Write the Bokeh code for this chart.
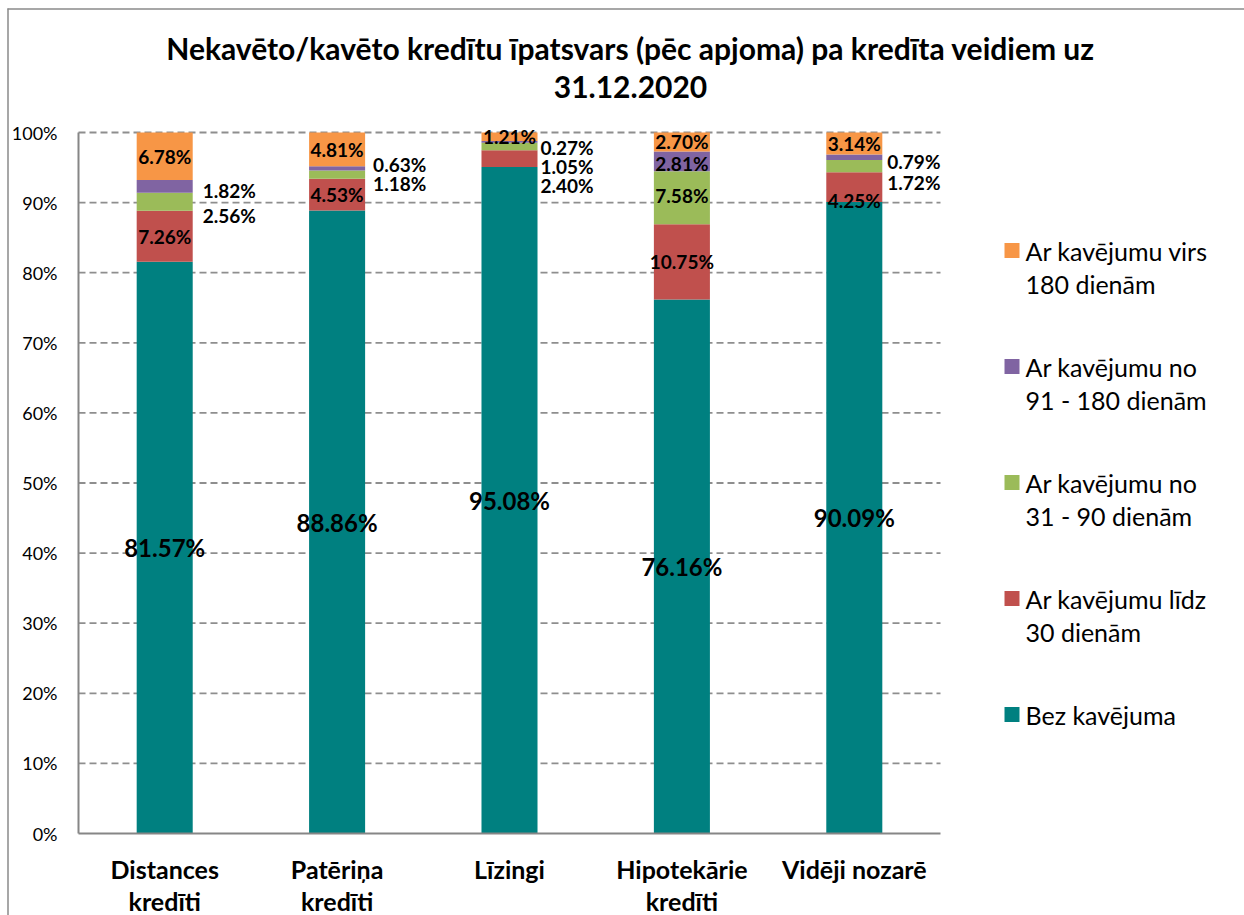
from bokeh.plotting import figure
from bokeh.models import ColumnDataSource, Range1d
from bokeh.core.properties import value
from bokeh.embed import file_html
from bokeh.resources import INLINE

# ---------------- data ----------------
categories = ["Distances\nkredīti", "Patēriņa\nkredīti", "Līzingi", "Hipotekārie\nkredīti", "Vidēji nozarē"]
bez_kavejuma = [81.57, 88.86, 95.08, 76.16, 90.09]
lidz_30 = [7.26, 4.53, 2.40, 10.75, 4.25]
no_31_90 = [2.56, 1.18, 1.05, 7.58, 1.72]
no_91_180 = [1.82, 0.63, 0.27, 2.81, 0.79]
virs_180 = [6.78, 4.81, 1.21, 2.70, 3.14]
series_labels = ["Bez kavējuma", "Ar kavējumu līdz\n30 dienām", "Ar kavējumu no\n31 - 90 dienām",
                 "Ar kavējumu no\n91 - 180 dienām", "Ar kavējumu virs\n180 dienām"]
y_ticks = [0, 10, 20, 30, 40, 50, 60, 70, 80, 90, 100]
y_tick_labels = ["0%", "10%", "20%", "30%", "40%", "50%", "60%", "70%", "80%", "90%", "100%"]
title_lines = ["Nekavēto/kavēto kredītu īpatsvars (pēc apjoma) pa kredīta veidiem uz", "31.12.2020"]

# ---------------- style / layout ----------------
colors = ["#008080", "#C0504D", "#9BBB59", "#8064A2", "#F79646"]
FONT = "Lato"
GRID_COLOR = "#8e8e8e"
AXIS_COLOR = "#868686"
FRAME_COLOR = "#8a8a8a"
BAR_W = 0.325
W, H = 1244, 915           # canvas covers the page from (0, 0)
PLOT_LEFT_PX = 78          # page x of the plot area's left edge (category -0.5)
ZERO_Y_PX = 833            # page y of the 0% line
PX_PER_UNIT = 172.4
PX_PER_PCT = 7.01
BORDER_X_PX, BORDER_Y_PX = 7.5, 8.5

def x_at(px):
    return -0.5 + (px - PLOT_LEFT_PX) / PX_PER_UNIT

def y_at(py):
    return (ZERO_Y_PX - py) / PX_PER_PCT

# label placement: (category, series) -> (x offset px, y offset px) for labels right of the bar
outside_labels = {(0, 2): (10, 14), (0, 3): (10, 4),
                  (1, 2): (8, 9), (1, 3): (8, -4),
                  (2, 1): (3, 27), (2, 2): (3, 20), (2, 3): (3, 6),
                  (4, 2): (5, 16), (4, 3): (5, 4)}
inside_offsets = {(4, 1): 13, (3, 3): 2, (3, 2): -2}

series = [bez_kavejuma, lidz_30, no_31_90, no_91_180, virs_180]
keys = ["s%d" % k for k in range(len(series))]
xs = list(range(len(categories)))
n_cat = len(categories)

p = figure(width=W, height=H, output_backend="svg", toolbar_location=None,
           x_range=Range1d(x_at(0), x_at(W)), y_range=Range1d(y_at(H), y_at(0)),
           x_axis_type=None, y_axis_type=None,
           min_border_left=0, min_border_right=0, min_border_top=0, min_border_bottom=0)
p.outline_line_color = None
p.xgrid.visible = False
p.ygrid.visible = False
p.background_fill_color = "white"
p.border_fill_color = "white"

# chart-area frame (left and top edges visible in the window)
p.segment(x0=[x_at(BORDER_X_PX), x_at(BORDER_X_PX - 0.5)], x1=[x_at(BORDER_X_PX), x_at(W)],
          y0=[y_at(BORDER_Y_PX - 0.5), y_at(BORDER_Y_PX)], y1=[y_at(H), y_at(BORDER_Y_PX)],
          line_color=FRAME_COLOR, line_width=1.5)

# y tick labels
p.text(x=[-0.5] * len(y_ticks), y=y_ticks, text=y_tick_labels, x_offset=-21,
       text_font=value(FONT), text_font_size="18px", text_align="right",
       text_baseline="middle", text_color="black")

# gridlines (dashed) behind bars
gl = y_ticks[1:]
p.segment(x0=[-0.5] * len(gl), x1=[n_cat - 0.5] * len(gl), y0=gl, y1=gl,
          line_color=GRID_COLOR, line_width=1.8, line_dash="7 4")

# stacked bars
src = ColumnDataSource(dict(x=xs, **{k: s for k, s in zip(keys, series)}))
p.vbar_stack(keys, x="x", width=BAR_W, color=colors, source=src, line_width=0)

# axis lines
p.segment(x0=[-0.5, -0.5], x1=[n_cat - 0.5, -0.5], y0=[0, 0], y1=[0, y_ticks[-1]],
          line_color=AXIS_COLOR, line_width=2)

# data labels
in_x, in_y, in_t, in_dy = [], [], [], []
out_x, out_y, out_t, out_dx, out_dy = [], [], [], [], []
big_x, big_y, big_t = [], [], []
for i in xs:
    bottom = 0.0
    for k, s in enumerate(series):
        v = s[i]
        c = bottom + v / 2.0
        txt = "%.2f%%" % v
        if k == 0:
            big_x.append(i); big_y.append(c); big_t.append(txt)
        elif (i, k) in outside_labels:
            dx, dy = outside_labels[(i, k)]
            out_x.append(i + BAR_W / 2); out_y.append(c); out_t.append(txt)
            out_dx.append(dx); out_dy.append(dy)
        else:
            in_x.append(i); in_y.append(c); in_t.append(txt)
            in_dy.append(inside_offsets.get((i, k), 0))
        bottom += v

p.text(x=big_x, y=big_y, text=big_t, text_font=value(FONT), text_font_style="bold",
       text_font_size="24px", text_align="center", text_baseline="middle", text_color="black")
p.text(x="x", y="y", text="t", y_offset="dy",
       source=ColumnDataSource(dict(x=in_x, y=in_y, t=in_t, dy=in_dy)),
       text_font=value(FONT), text_font_style="bold", text_font_size="19px",
       text_align="center", text_baseline="middle", text_color="black")
p.text(x="x", y="y", text="t", x_offset="dx", y_offset="dy",
       source=ColumnDataSource(dict(x=out_x, y=out_y, t=out_t, dx=out_dx, dy=out_dy)),
       text_font=value(FONT), text_font_style="bold", text_font_size="19px",
       text_align="left", text_baseline="middle", text_color="black")

# category labels under the axis
cx, cy, ct, cdy = [], [], [], []
for i, lab in enumerate(categories):
    for j, line in enumerate(lab.split("\n")):
        cx.append(i); cy.append(0); ct.append(line); cdy.append(35 + 32 * j)
p.text(x="x", y="y", text="t", y_offset="dy", source=ColumnDataSource(dict(x=cx, y=cy, t=ct, dy=cdy)),
       text_font=value(FONT), text_font_style="bold", text_font_size="25px",
       text_align="center", text_baseline="middle", text_color="black")

# title
TITLE_X = x_at(630)
p.text(x=[TITLE_X] * len(title_lines), y=[y_ticks[-1]] * len(title_lines), text=title_lines,
       y_offset=[-85, -46], text_font=value(FONT), text_font_style="bold", text_font_size="30px",
       text_align="center", text_baseline="middle", text_color="black")

# legend (top to bottom: reverse stacking order)
LEG_SQ_X = x_at(1011.5)
LEG_TX_X = x_at(1025)
order = list(range(len(series)))[::-1]
sq_y, sq_c = [], []
lx, ly, lt, ldy = [], [], [], []
for n, k in enumerate(order):
    base = 118 + 116 * n
    sq_y.append(y_ticks[-1] - base / PX_PER_PCT); sq_c.append(colors[k])
    for j, line in enumerate(series_labels[k].split("\n")):
        lx.append(LEG_TX_X); ly.append(y_ticks[-1]); lt.append(line); ldy.append(base + 33 * j)
p.scatter(x=[LEG_SQ_X] * len(sq_y), y=sq_y, marker="square", size=15, fill_color=sq_c, line_color=None)
p.text(x="x", y="y", text="t", y_offset="dy", source=ColumnDataSource(dict(x=lx, y=ly, t=lt, dy=ldy)),
       text_font=value(FONT), text_font_size="25px", text_align="left", text_baseline="middle",
       text_color="black")

open("out.html", "w").write(file_html(p, INLINE))
